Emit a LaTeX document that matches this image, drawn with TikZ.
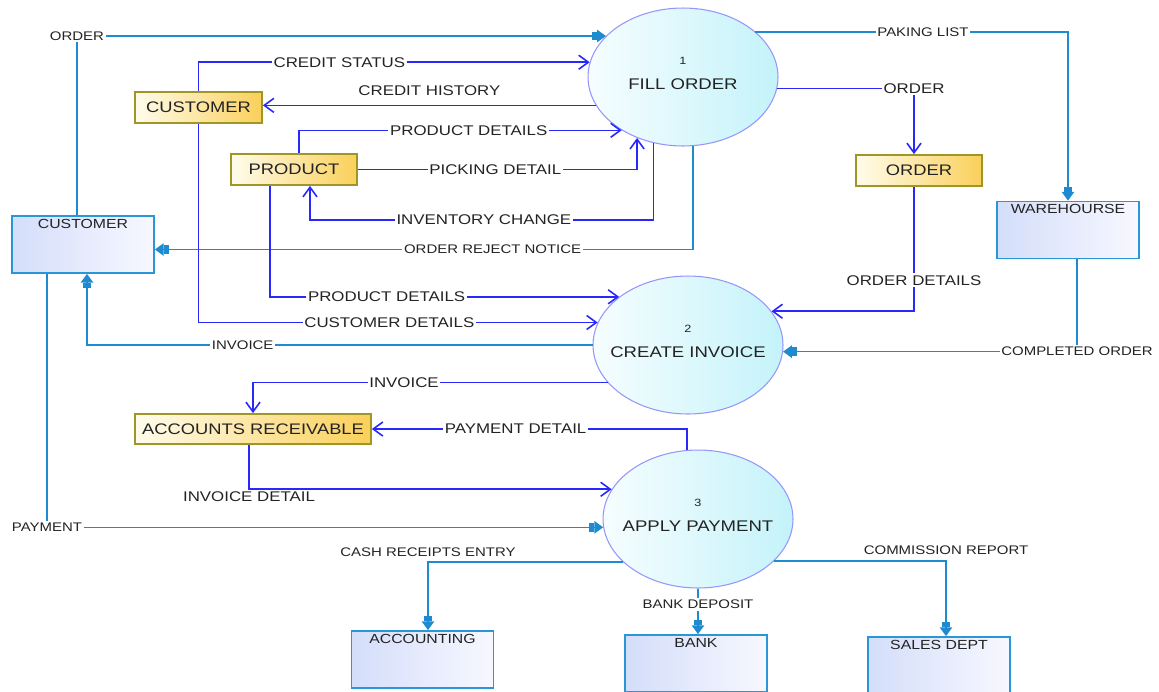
\documentclass[tikz,border=0pt]{standalone}
\usepackage{fontspec}
\setmainfont{Liberation Sans}[FakeStretch=1.2]
\usetikzlibrary{arrows.meta,calc,shapes.geometric}

\definecolor{extblue}{RGB}{30,138,208}
\definecolor{intblue}{RGB}{40,40,250}
\definecolor{procline}{RGB}{150,150,250}
\definecolor{procfill}{RGB}{196,243,250}
\definecolor{storeline}{RGB}{160,150,40}
\definecolor{storegold}{RGB}{250,208,90}
\definecolor{storecream}{RGB}{255,252,236}
\definecolor{entline}{RGB}{40,150,215}
\definecolor{entfill}{RGB}{212,222,250}
\definecolor{txt}{RGB}{35,35,35}

\tikzset{
	process/.style 2 args={ellipse, draw=procline, line width=0.6pt,
		left color=white!85!procfill, right color=procfill,
		minimum width=3.8cm, minimum height=2.76cm, inner sep=0pt,
		label={[yshift=9pt, text=txt, font=\fontsize{6}{7}\selectfont]center:#1},
		label={[yshift=-4pt, text=txt, font=\fontsize{8.8}{10}\selectfont]center:#2}},
	store/.style={draw=storeline, line width=1pt, left color=storecream, right color=storegold,
		minimum height=0.62cm, inner sep=0pt, text=txt, font=\fontsize{8.7}{10}\selectfont},
	entity/.style={draw=entline, line width=1pt, left color=entfill, right color=blue!3,
		minimum width=2.84cm, minimum height=1.14cm, inner sep=0pt,
		label={[anchor=north, inner sep=2pt, text=txt, font=\fontsize{7.5}{9}\selectfont]north:#1}},
	flowin/.style={draw=intblue, line width=0.9pt, -{Straight Barb[length=5.5pt,width=8pt]}},
	flowext/.style={draw=extblue, line width=0.9pt, -{Rectangle[length=3pt,width=5pt]Triangle[length=5pt,width=7pt]}},
	lbl/.style={fill=white, inner sep=1pt, text=txt, font=\fontsize{8}{9}\selectfont},
	lblext/.style={fill=white, inner sep=1pt, text=txt, font=\fontsize{7.1}{8}\selectfont},
}

\begin{document}
\begin{tikzpicture}[x=0.02cm, y=-0.02cm]
	\useasboundingbox (0,0) rectangle (1159,691);
	\clip (0,0) rectangle (1159,691);

	% Processes
	\node[process={1}{FILL ORDER}] (p1) at (683,77) {};
	\node[process={2}{CREATE INVOICE}] (p2) at (688,345) {};
	\node[process={3}{APPLY PAYMENT}] (p3) at (698,519) {};

	% Data stores
	\node[store, minimum width=2.54cm] (cstore) at (198.5,107.5) {CUSTOMER};
	\node[store, minimum width=2.52cm] (pstore) at (294,169.5) {PRODUCT};
	\node[store, minimum width=2.52cm] (ostore) at (919,170.5) {ORDER};
	\node[store, minimum width=4.72cm, minimum height=0.6cm] (ar) at (253,429) {ACCOUNTS RECEIVABLE};

	% External entities
	\node[entity=CUSTOMER] (cust) at (83,244.5) {};
	\node[entity=WAREHOURSE] (wh) at (1068,230) {};
	\node[entity=ACCOUNTING] (acc) at (422.5,659.5) {};
	\node[entity=BANK] (bank) at (696,663.5) {};
	\node[entity=SALES DEPT] (sales) at (939,665.5) {};

	% Flows to and from entities
	\draw[flowext] ($(cust.north)+(-6,0)$) |- node[lblext, pos=0.5] {ORDER} (p1.152);
	\draw[flowext] (p1.32) -| node[lblext, pos=0.268] {PAKING LIST} (wh.north);
	\draw[flowext] (p1.278) |- node[lblext, pos=0.686] {ORDER REJECT NOTICE} ($(cust.east)+(0,5)$);
	\draw[flowext] ($(wh.south)+(9,0)$) |- node[lblext, pos=0.5] {COMPLETED ORDER} (p2.356);
	\draw[flowext] (p2.west) -| node[lblext, pos=0.346] {INVOICE} ($(cust.south)+(4,0)$);
	\draw[flowext] ($(cust.south)+(-36,0)$) |- node[lblext, pos=0.5] {PAYMENT} (p3.185);
	\draw[flowext] (p3.210) -| node[lblext, pos=0.5, above=2pt, fill=none] {CASH RECEIPTS ENTRY} ($(acc.north)+(5.5,0)$);
	\draw[flowext] (p3.south) -- node[lblext, pos=0.35] {BANK DEPOSIT} (p3.south |- bank.north);
	\draw[flowext] (p3.331) -| node[lblext, pos=0.5, above=2pt, fill=none] {COMMISSION REPORT} ($(sales.north)+(7,0)$);

	% Flows between processes and stores
	\draw[flowin] (cstore.north) |- node[lbl, pos=0.68] {CREDIT STATUS} (p1.171);
	\draw[flowin] (p1.198) -- node[lbl, above=4pt, fill=none] {CREDIT HISTORY} (p1.198 -| cstore.east);
	\draw[flowin] ($(pstore.north)+(5,0)$) |- node[lbl, pos=0.763] {PRODUCT DETAILS} (p1.221);
	\draw[flowin] (pstore.east) -| node[lbl, pos=0.246] {PICKING DETAIL} (p1.233);
	\draw[flowin] (p1.246) |- node[lbl, pos=0.747] {INVENTORY CHANGE} ($(pstore.south)+(16,34)$) -- ($(pstore.south)+(16,0)$);
	\draw[flowin] (p1.353) -| node[lbl, pos=0.5] {ORDER} ($(ostore.north)+(-5,0)$);
	\draw[flowin] ($(ostore.south)+(-5,0)$) |- node[lbl, pos=0.375] {ORDER DETAILS} (p2.22);
	\draw[flowin] ($(pstore.south)+(-24,0)$) |- node[lbl, pos=0.667] {PRODUCT DETAILS} (p2.145);
	\draw[flowin] (cstore.south) |- node[lbl, pos=0.739] {CUSTOMER DETAILS} (p2.166);
	\draw[flowin] (p2.205) -| node[lbl, pos=0.287] {INVOICE} (ar.north);
	\draw[flowin] (p3.99) |- node[lbl, pos=0.772] {PAYMENT DETAIL} (ar.east);
	\draw[flowin] ($(ar.south)+(-4,0)$) |- node[lbl, pos=0.5, below=0pt, fill=none] {INVOICE DETAIL} (p3.161);
\end{tikzpicture}
\end{document}
